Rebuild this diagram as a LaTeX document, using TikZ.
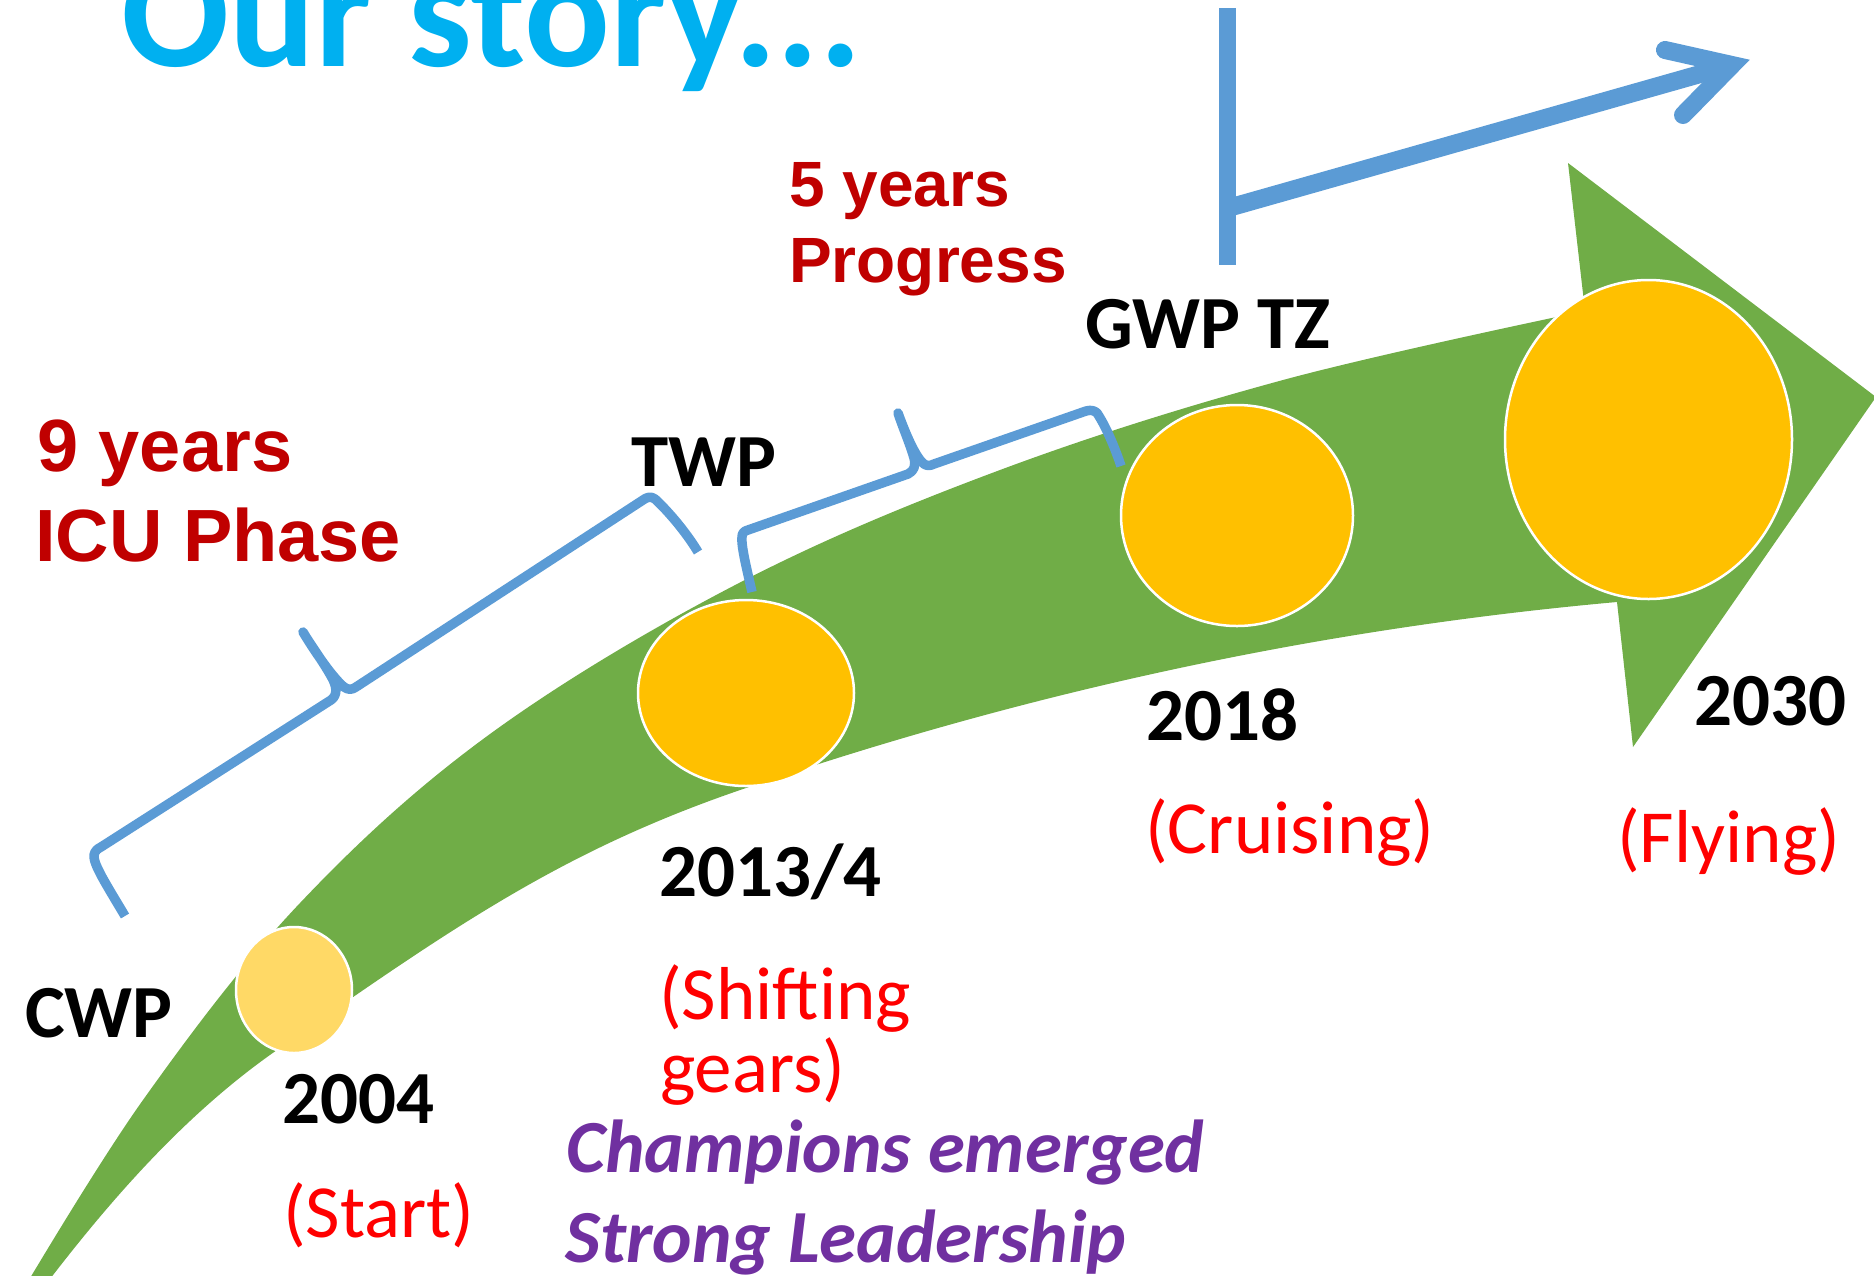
\documentclass[tikz,border=0pt]{standalone}
\usepackage{fontspec}
\setmainfont{Carlito}
\newfontfamily\arialfont{Liberation Sans}
\usetikzlibrary{shapes.geometric}
\definecolor{arrgreen}{HTML}{70AD47}
\definecolor{gold}{HTML}{FFC000}
\definecolor{lightgold}{HTML}{FFD966}
\definecolor{bblue}{HTML}{5B9BD5}
\definecolor{cyantitle}{HTML}{00B0F0}
\definecolor{darkred}{HTML}{C00000}
\definecolor{brightred}{HTML}{FF0000}
\definecolor{purp}{HTML}{7030A0}
\begin{document}
\begin{tikzpicture}[x=1pt,y=-1pt,
  blbl/.style={anchor=base west, inner sep=0pt, text=black, font=\fontsize{75}{90}\selectfont\bfseries},
  phase/.style={anchor=base west, inner sep=0pt, text=brightred, font=\fontsize{75}{90}\selectfont},
  champ/.style={anchor=base west, inner sep=0pt, text=purp, font=\fontsize{75}{90}\selectfont\bfseries\itshape},
  bignote/.style={anchor=base west, inner sep=0pt, text=darkred, font=\arialfont\fontsize{74}{88}\selectfont\bfseries},
  smallnote/.style={anchor=base west, inner sep=0pt, text=darkred, font=\arialfont\fontsize{64}{76}\selectfont\bfseries},
  disc/.style={ellipse, inner sep=0pt, draw=white, line width=2.5pt},
  bracket/.style={draw=bblue, line width=9.5pt, line join=round, line cap=butt}
]
\useasboundingbox (0,0) rectangle (1874,1275);
\clip (0,0) rectangle (1874,1275);

% green curved arrow
\fill[arrgreen]
  plot[smooth, tension=0.6] coordinates {(17,1300) (143,1100) (300,903) (490,734) (739,583) (1000,470) (1283,380) (1585,311)}
  -- (1568,163) -- (1876,397) -- (1633,747) -- (1617,602)
  .. controls (1327,628) and (1036,689) .. (746,788)
  .. controls (566,849) and (457,924) .. (277,1050)
  .. controls (182,1116) and (104,1207) .. (34,1300)
  -- cycle;

% bracket 1 (9 years)
\draw[bracket] (125,916) .. controls (106,884) and (93,864) .. (94,855)
  .. controls (95,851) and (97,849) .. (101,847) -- (331,700)
  .. controls (338,695) and (337,686) .. (331,676)
  .. controls (322,660) and (310,644) .. (303,632)
  .. controls (315,652) and (333,678) .. (344,687)
  .. controls (348,690) and (352,690) .. (356,687) -- (643,500)
  .. controls (647,497) and (651,496) .. (655,499)
  .. controls (668,511) and (686,532) .. (698,552);

% bracket 2 (5 years)
\draw[bracket] (752,592) .. controls (746,566) and (741,545) .. (742,537)
  .. controls (742,533) and (744,531) .. (748,530) -- (908,474)
  .. controls (914,471) and (916,466) .. (914,458)
  .. controls (910,444) and (903,428) .. (898,413)
  .. controls (906,435) and (916,458) .. (924,464)
  .. controls (927,466) and (930,466) .. (934,464) -- (1086,411)
  .. controls (1090,410) and (1094,410) .. (1097,413)
  .. controls (1105,425) and (1114,445) .. (1121,466);

% blue growth arrow
\coordinate (barTop) at (1227.5,8);
\coordinate (barBot) at (1227.5,265);
\coordinate (shaftA) at (1228,208);
\coordinate (tipV) at (1732,65);
\coordinate (barbU) at (1665,50);
\coordinate (barbL) at (1683,115);
\draw[bblue, line width=17pt, line cap=butt] (barTop) -- (barBot);
\draw[bblue, line width=18pt, line cap=butt] (shaftA) -- (tipV);
\draw[bblue, line width=18pt, line cap=round, line join=miter] (barbU) -- (tipV) -- (barbL);

% discs
\node[disc, fill=lightgold, minimum width=116pt, minimum height=126pt] (c2004) at (294,990) {};
\node[disc, fill=gold, minimum width=216pt, minimum height=186pt] (c2013) at (746,693) {};
\node[disc, fill=gold, minimum width=232pt, minimum height=221pt] (c2018) at (1237,515.5) {};
\node[disc, fill=gold, minimum width=287pt, minimum height=319pt] (c2030) at (1648.5,439.5) {};

% title
\node[anchor=base west, inner sep=0pt, text=cyantitle, font=\fontsize{160}{164}\selectfont\bfseries] (title) at (121,66) {Our story...};

% notes
\node[bignote] (nine1) at (37,471) {9 years};
\node[bignote] (nine2) at (35,561) {ICU Phase};
\node[smallnote] (five1) at (789,206) {5 years};
\node[smallnote] (five2) at (789,282) {Progress};

% stage labels
\node[blbl] (cwp) at (25,1037) {CWP};
\node[blbl] (twp) at (631,486) {TWP};
\node[blbl] (gwp) at (1085,348) {GWP TZ};

\node[blbl] (y2004) at (282,1123) {2004};
\node[blbl] (y2013) at (659,896) {2013/4};
\node[blbl] (y2018) at (1146,740) {2018};
\node[blbl] (y2030) at (1694,725) {2030};

\node[phase] (pstart) at (283,1237) {(Start)};
\node[phase] (pshift1) at (659,1019) {(Shifting};
\node[phase] (pshift2) at (660,1092) {gears)};
\node[phase] (pcruise) at (1145,853) {(Cruising)};
\node[phase] (pfly) at (1617,862) {(Flying)};

\node[champ] (champ1) at (566,1172) {Champions emerged};
\node[champ] (champ2) at (565,1262) {Strong Leadership};
\end{tikzpicture}
\end{document}
